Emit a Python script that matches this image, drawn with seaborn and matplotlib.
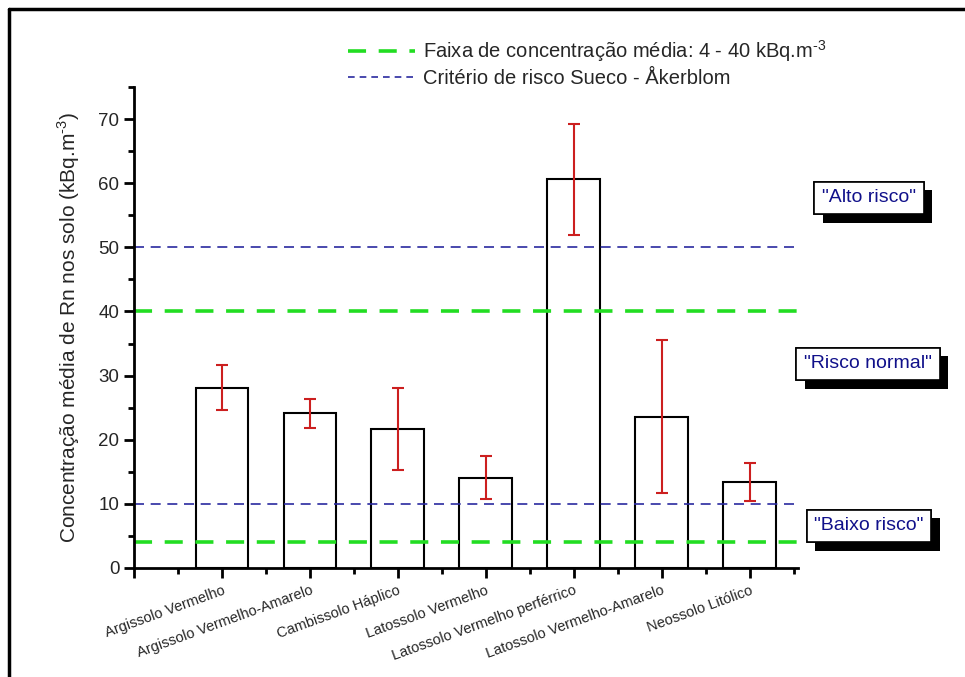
import matplotlib
matplotlib.use("Agg")
import matplotlib.pyplot as plt
import matplotlib.patheffects as pe
from matplotlib.lines import Line2D
from matplotlib.ticker import MultipleLocator
import numpy as np
import pandas as pd
import seaborn as sns

# Dados
solos = ['Argissolo Vermelho', 'Argissolo Vermelho-Amarelo', 'Cambissolo Háplico',
         'Latossolo Vermelho', 'Latossolo Vermelho perférrico',
         'Latossolo Vermelho-Amarelo', 'Neossolo Litólico']
media = [28.1, 24.1, 21.7, 14.1, 60.6, 23.6, 13.4]
desvio = [3.5, 2.2, 6.4, 3.3, 8.7, 11.9, 3.0]

faixa_media = [4, 40]
criterio_akerblom = [10, 50]
rotulos_risco = ['"Alto risco"', '"Risco normal"', '"Baixo risco"']

sns.set_style("white")
plt.rcParams['font.family'] = ['Liberation Sans', 'DejaVu Sans']
plt.rcParams['mathtext.fontset'] = 'custom'
plt.rcParams['mathtext.rm'] = 'Liberation Sans'

df = pd.DataFrame({'solo': solos, 'media': media})

fig = plt.figure(figsize=(9.65, 6.77), dpi=100)
ax = fig.add_axes([134 / 965, 1 - 568 / 677, (798 - 134) / 965, (568 - 87) / 677])

sns.barplot(data=df, x='solo', y='media', errorbar=None, width=0.6,
            color='white', edgecolor='black', linewidth=1.5, ax=ax)
ax.errorbar(np.arange(len(solos)), media, yerr=desvio, fmt='none',
            ecolor='#cc1f1f', elinewidth=1.5, capsize=4, capthick=1.5, zorder=5)

# Linhas de referência
for v in faixa_media:
    ax.axhline(v, color='#22dd22', lw=2.6, dashes=(5, 3.5), zorder=1)
for v in criterio_akerblom:
    ax.axhline(v, color='#2a2aa0', lw=1.2, dashes=(6, 4), zorder=1)

ax.set_xlim(-1, 6.55)
ax.set_xticks(range(-1, 7))
ax.set_xticklabels([''] + solos, rotation=20, ha='right', rotation_mode='anchor')
ax.xaxis.set_minor_locator(MultipleLocator(0.5))
ax.set_yticks(range(0, 71, 10))
ax.yaxis.set_minor_locator(MultipleLocator(5))
ax.set_ylim(0, 75)
ax.tick_params(axis='both', which='major', direction='out', length=7, width=2,
               labelsize=13.5, left=True, bottom=True, color='black')
ax.tick_params(axis='both', which='minor', direction='out', length=4, width=2,
               left=True, bottom=True, color='black')
ax.tick_params(axis='x', labelsize=10.5, pad=4)
ax.set_xlabel('')
ax.set_ylabel('Concentração média de Rn nos solo (kBq.m$^{\\mathrm{-3}}$)'.replace('\\mathrm{-3}', '\\text{-3}'),
              fontsize=15, labelpad=12)

for s in ['top', 'right']:
    ax.spines[s].set_visible(False)
for s in ['left', 'bottom']:
    ax.spines[s].set_linewidth(2)
    ax.spines[s].set_color('black')

# Caixas de risco
posicoes = [(869, 198), (868, 364), (869, 526)]
for texto, (px, py) in zip(rotulos_risco, posicoes):
    t = fig.text(px / 965, 1 - py / 677, texto, ha='center', va='center',
                 fontsize=14, color='#10108a',
                 bbox=dict(boxstyle='square,pad=0.4', facecolor='white',
                           edgecolor='black', linewidth=1.2))
    t.get_bbox_patch().set_path_effects([
        pe.withSimplePatchShadow(offset=(6, -6), shadow_rgbFace='black', alpha=1.0),
        pe.Normal()])

# Legenda
handles = [Line2D([0], [0], color='#22dd22', lw=2.6, dashes=(5, 3.5)),
           Line2D([0], [0], color='#2a2aa0', lw=1.2, dashes=(4, 3))]
labels = ['Faixa de concentração média: 4 - 40 kBq.m$^{\\text{-3}}$',
          'Critério de risco Sueco - Åkerblom']
fig.legend(handles, labels, loc='upper left', bbox_to_anchor=(340 / 965, 1 - 30 / 677),
           frameon=False, fontsize=14.5, handlelength=3.3, handletextpad=0.4,
           labelspacing=0.25, borderaxespad=0)

# Moldura (esquerda e topo)
fig.add_artist(Line2D([9 / 965, 9 / 965], [0, 1 - 9 / 677], color='black', lw=2.5,
                      transform=fig.transFigure))
fig.add_artist(Line2D([9 / 965, 1], [1 - 9 / 677, 1 - 9 / 677], color='black', lw=2.5,
                      transform=fig.transFigure))

fig.savefig('out.png', dpi=100)
